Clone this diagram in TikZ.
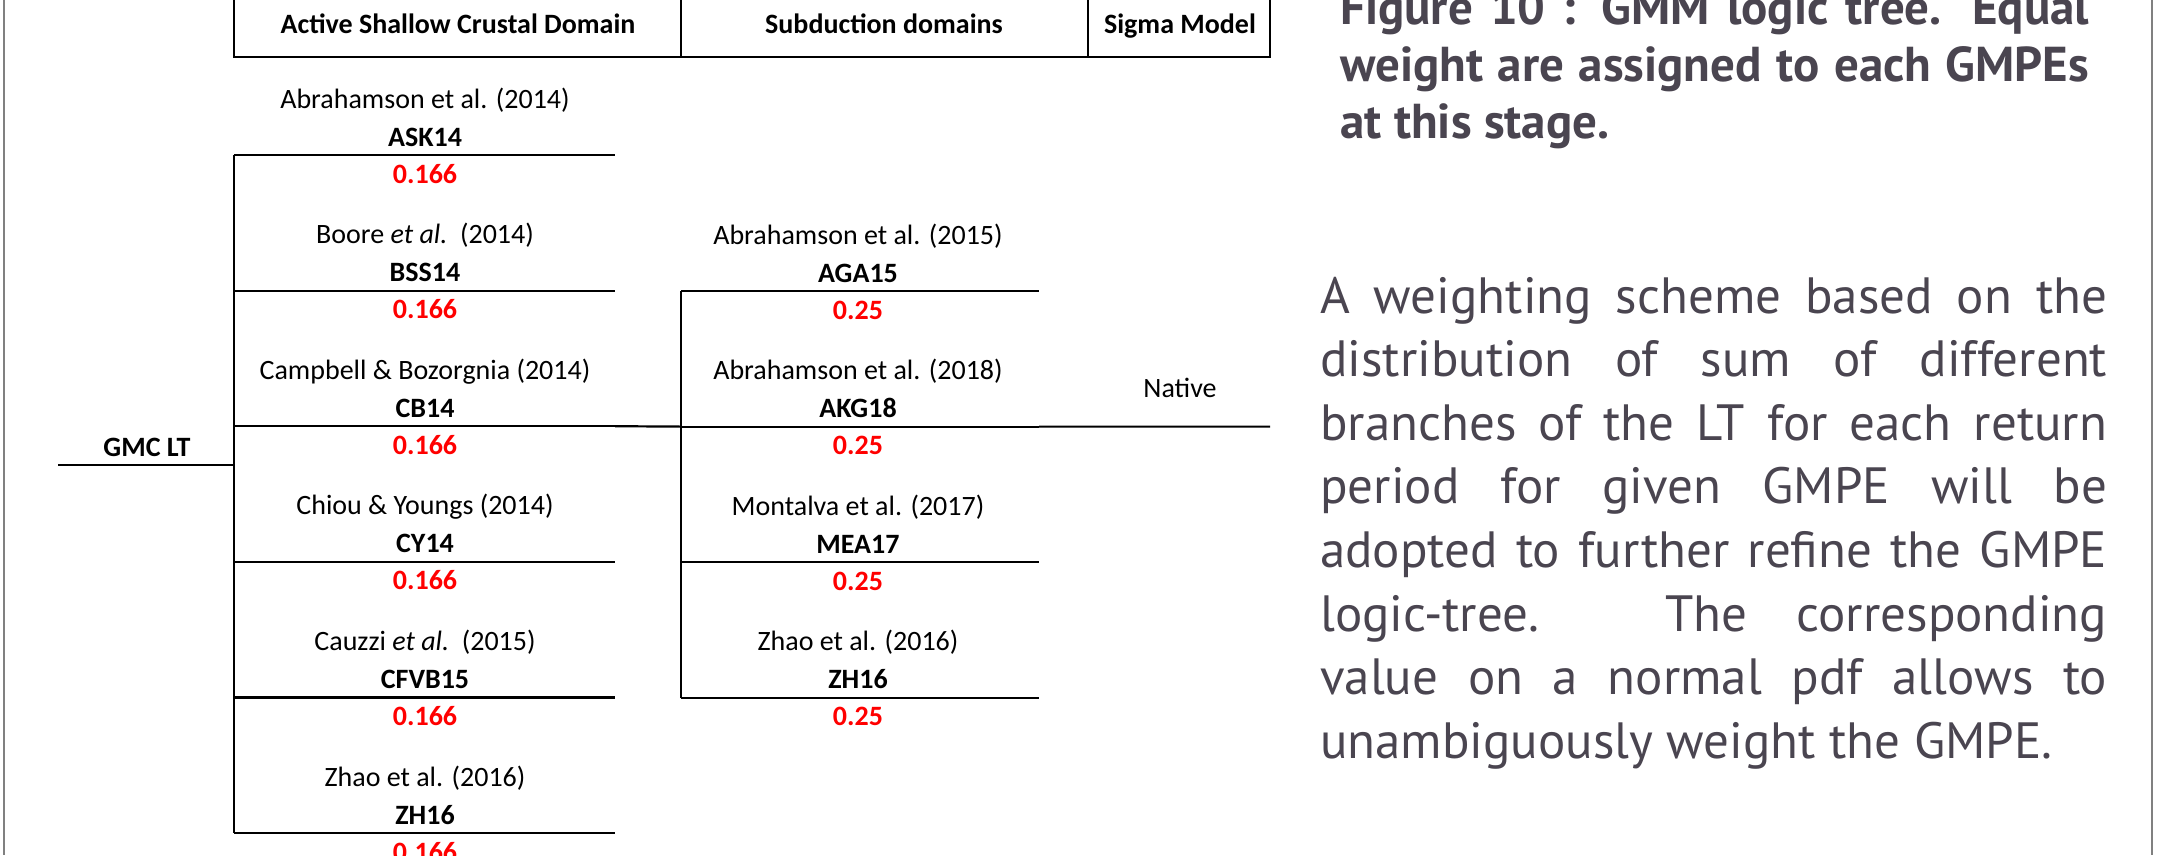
\documentclass[tikz,border=0pt]{standalone}
\usepackage{fontspec}
\setmainfont{Carlito}
\newfontfamily\notefont{PT Sans}
\definecolor{wred}{RGB}{255,0,0}
\definecolor{notegray}{RGB}{74,69,80}
\tikzset{
  lt/.style={line width=2.2pt},
  txt/.style={inner sep=0pt, anchor=base, font=\fontsize{28}{34}\selectfont},
  model/.style={txt, font=\fontsize{28}{34}\selectfont\bfseries},
  wgt/.style={model, text=wred},
  note/.style={inner sep=0pt, anchor=base west, text=notegray, font=\notefont\fontsize{51}{64}\selectfont},
  captxt/.style={note, font=\notefont\bfseries\fontsize{49}{56}\selectfont}
}
\begin{document}
\begin{tikzpicture}[x=1pt, y=-1pt]
\useasboundingbox (0,0) rectangle (2163,855);
\clip (0,0) rectangle (2163,855);
\draw[gray, line width=2.5pt] (4,0) -- (4,855) (2152,0) -- (2152,855);

\draw[line width=1.6pt] (234,-10) rectangle (1270,57) (681,-10) -- (681,57) (1088,-10) -- (1088,57);
\node[model] (hasc) at (458,33) {Active Shallow Crustal Domain};
\node[model] (hsub) at (884,33) {Subduction domains};
\node[model] (hsig) at (1180,33) {Sigma Model};

\node[model] (root) at (147,456) {GMC LT};
\coordinate (rootL) at (58,465);
\coordinate (rootR) at (234,465);
\draw[lt] (rootL) -- (rootR);

\foreach \auth/\code [count=\i] in {Abrahamson et al. (2014)/ASK14, Boore \emph{et al.}\ \ (2014)/BSS14, Campbell \& Bozorgnia (2014)/CB14, Chiou \& Youngs (2014)/CY14, Cauzzi \emph{et al.}\ \ (2015)/CFVB15, Zhao et al. (2016)/ZH16}{
  \pgfmathsetmacro\yy{155+135.6*(\i-1)}
  \coordinate (ascL\i) at (234,\yy);
  \coordinate (ascR\i) at (615,\yy);
  \draw[lt] (ascL\i) -- (ascR\i);
  \node[txt] (ascA\i) at (425,\yy-47) {\auth};
  \node[model] (ascM\i) at (425,\yy-9) {\code};
  \node[wgt] (ascW\i) at (425,\yy+28) {0.166};
}
\draw[lt] (ascL1) -- (ascL6);

\foreach \auth/\code [count=\i] in {Abrahamson et al. (2015)/AGA15, Abrahamson et al. (2018)/AKG18, Montalva et al. (2017)/MEA17, Zhao et al. (2016)/ZH16}{
  \pgfmathsetmacro\yy{291+135.6*(\i-1)}
  \coordinate (subL\i) at (681,\yy);
  \coordinate (subR\i) at (1039,\yy);
  \draw[lt] (subL\i) -- (subR\i);
  \node[txt] (subA\i) at (858,\yy-47) {\auth};
  \node[model] (subM\i) at (858,\yy-9) {\code};
  \node[wgt] (subW\i) at (858,\yy+28) {0.25};
}
\draw[lt] (subL1) -- (subL4);

\coordinate (sigR) at (1270,426.6);
\draw[lt] (ascR3) -- (subL2) (subR2) -- (sigR);
\node[txt] (native) at (1180,397) {Native};

\node[captxt] (cap1) at (1340,24) {\makebox[749pt][s]{Figure 10 : GMM logic tree. Equal}};
\node[captxt] (cap2) at (1340,81) {\makebox[749pt][s]{weight are assigned to each GMPEs}};
\node[captxt] (cap3) at (1340,138) {at this stage.};

\foreach \ln [count=\i] in {A weighting scheme based on the,distribution of sum of different,branches of the LT for each return,period for given GMPE will be,adopted to further refine the GMPE,logic-tree. The corresponding,value on a normal pdf allows to}{
  \node[note] (note\i) at (1320,{313+63.6*(\i-1)}) {\makebox[787pt][s]{\ln}};
}
\node[note] (note8) at (1320,758) {unambiguously weight the GMPE.};
\end{tikzpicture}
\end{document}
